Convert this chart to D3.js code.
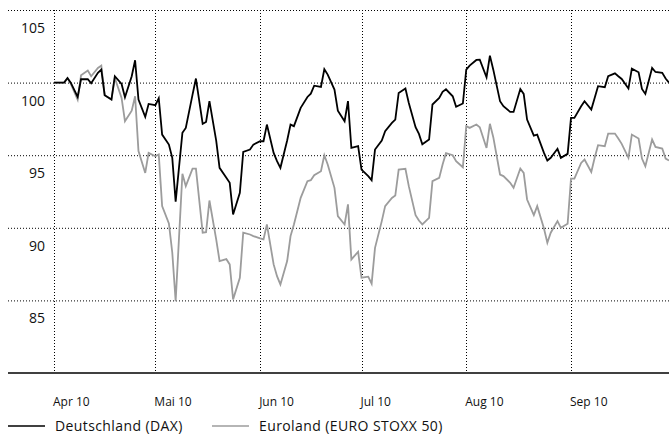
<!DOCTYPE html>
<html>
<head>
<meta charset="utf-8">
<script src="https://cdn.jsdelivr.net/npm/d3@7"></script>
<style>
  html, body { margin: 0; padding: 0; background: #fff; }
  svg { display: block; font-family: "Open Sans", sans-serif; }
</style>
</head>
<body>
<svg id="chart" width="669" height="438"></svg>
<script>
// ---- data ----
const dates = [
  "2010-04-01","2010-04-04","2010-04-05","2010-04-06","2010-04-08","2010-04-09","2010-04-11","2010-04-12","2010-04-14","2010-04-15",
  "2010-04-16","2010-04-18","2010-04-19","2010-04-21","2010-04-22","2010-04-24","2010-04-25","2010-04-26","2010-04-28","2010-04-29",
  "2010-05-01","2010-05-02","2010-05-03","2010-05-05","2010-05-06","2010-05-07","2010-05-09","2010-05-10","2010-05-12","2010-05-13",
  "2010-05-15","2010-05-16","2010-05-17","2010-05-19","2010-05-20","2010-05-22","2010-05-23","2010-05-24","2010-05-26","2010-05-27",
  "2010-05-29","2010-05-30",
  "2010-06-01","2010-06-02","2010-06-03","2010-06-05","2010-06-06","2010-06-07","2010-06-09","2010-06-10","2010-06-11","2010-06-13",
  "2010-06-15","2010-06-16","2010-06-17","2010-06-19","2010-06-20","2010-06-21","2010-06-23","2010-06-24","2010-06-26","2010-06-27",
  "2010-06-28","2010-06-30",
  "2010-07-01","2010-07-03","2010-07-04","2010-07-05","2010-07-07","2010-07-08","2010-07-10","2010-07-11","2010-07-12","2010-07-14",
  "2010-07-15","2010-07-17","2010-07-18","2010-07-19","2010-07-21","2010-07-22","2010-07-24","2010-07-25","2010-07-26","2010-07-28",
  "2010-07-29","2010-07-31",
  "2010-08-01","2010-08-02","2010-08-04","2010-08-05","2010-08-07","2010-08-08","2010-08-09","2010-08-11","2010-08-12","2010-08-14",
  "2010-08-15","2010-08-17","2010-08-18","2010-08-19","2010-08-21","2010-08-22","2010-08-24","2010-08-25","2010-08-26","2010-08-28",
  "2010-08-29","2010-08-31",
  "2010-09-01","2010-09-02","2010-09-04","2010-09-05","2010-09-07","2010-09-08","2010-09-09","2010-09-11","2010-09-12","2010-09-14",
  "2010-09-15","2010-09-16","2010-09-18","2010-09-19","2010-09-21","2010-09-22","2010-09-23","2010-09-25","2010-09-26","2010-09-28",
  "2010-09-29","2010-09-30"
];

const dax = [
  100, 100, 100.32, 99.98, 99.01, 100.23, 100.23, 99.95, 100.67, 100.89, 99.13, 98.83, 100.44, 99.91, 98.99, 100.44, 101.54, 98.83, 97.64, 98.53,
  98.44, 98.92, 96.42, 95.73, 94.82, 91.8, 96.54, 96.88, 99.17, 100.28, 97.16, 97.29, 98.72, 96.01, 94.13, 93.44, 93.10, 90.92, 92.41, 95.23, 95.39, 95.73,
  95.96, 95.96, 97.11, 95.16, 94.59, 94.13, 96.01, 97.11, 97.0, 98.26, 99.01, 99.24, 99.79, 99.70, 100.92, 100.55, 99.52, 98.07, 97.34, 98.72, 95.50, 95.62,
  94.01, 93.56, 93.28, 95.39, 96.01, 96.65, 97.22, 97.45, 99.29, 99.59, 98.60, 96.93, 96.47, 95.75, 96.08, 98.49, 98.94, 99.36, 99.54, 99.06, 98.33, 98.56,
  100.89, 101.17, 101.56, 101.58, 100.37, 101.86, 100.89, 98.72, 98.37, 97.98, 97.98, 99.56, 99.22, 97.45, 96.35, 96.42, 95.16, 94.63, 94.82, 95.44, 94.82, 95.09,
  97.57, 97.57, 98.37, 98.72, 98.14, 98.94, 99.75, 99.68, 100.44, 100.64, 100.44, 100.25, 99.59, 100.96, 100.71, 99.56, 99.22, 101.01, 100.73, 100.67, 100.28, 100.0
];

const stoxx = [
  100, 100, 100.3, 99.9, 98.83, 100.5, 100.83, 100.44, 101.01, 101.17, 99.13, 98.83, 100.32, 98.94, 97.34, 98.07, 99.06, 95.28, 93.78, 95.16,
  94.93, 95.05, 91.49, 90.3, 88.3, 84.95, 93.72, 92.87, 94.08, 94.08, 89.66, 89.70, 91.88, 89.20, 87.71, 87.84, 87.48, 85.07, 86.56, 89.66, 89.54, 89.43,
  89.27, 89.20, 90.23, 87.48, 86.67, 86.10, 87.71, 89.43, 90.23, 92.06, 93.21, 93.28, 93.62, 93.90, 95.0, 94.36, 92.75, 90.80, 90.23, 91.61, 87.82, 88.35,
  86.56, 86.63, 86.15, 88.62, 90.46, 91.49, 92.06, 92.22, 94.01, 94.06, 92.87, 90.87, 90.50, 90.23, 90.69, 93.21, 93.44, 94.36, 95.14, 95.0, 94.59, 94.17,
  97.0, 96.88, 97.11, 96.93, 95.50, 97.16, 96.24, 93.67, 93.56, 93.10, 92.75, 94.08, 93.78, 91.95, 90.87, 91.49, 89.95, 88.97, 89.66, 90.46, 90.0, 90.28,
  93.39, 93.39, 94.47, 94.70, 93.85, 94.82, 95.69, 95.62, 96.49, 96.49, 96.15, 95.78, 94.82, 96.42, 96.15, 94.77, 94.24, 96.08, 95.57, 95.46, 94.77, 94.63
];

const monthTicks = ["2010-04-01","2010-05-01","2010-06-01","2010-07-01","2010-08-01","2010-09-01"];
const monthLabels = ["Apr 10","Mai 10","Jun 10","Jul 10","Aug 10","Sep 10"];
const yTicks = [85, 90, 95, 100, 105];
const seriesNames = ["Deutschland (DAX)", "Euroland (EURO STOXX 50)"];
const seriesColors = ["#000000", "#9c9c9c"];

// ---- layout ----
const svg = d3.select("#chart");
const plotLeft = 8, plotRight = 669, plotTop = 10, plotBottom = 373;
const parse = d3.utcParse("%Y-%m-%d");

const x = d3.scaleUtc()
  .domain([parse("2010-04-01"), parse("2010-09-30")])
  .range([54, 669]);
const y = d3.scaleLinear().domain([80, 105]).range([plotBottom, plotTop]);

// horizontal dotted grid
svg.append("g").selectAll("line").data(yTicks).join("line")
  .attr("x1", plotLeft).attr("x2", plotRight)
  .attr("y1", d => y(d) + 0.5).attr("y2", d => y(d) + 0.5)
  .attr("stroke", "#000").attr("stroke-width", 1)
  .attr("stroke-dasharray", "1,2");

// vertical dotted grid
svg.append("g").selectAll("line").data(monthTicks).join("line")
  .attr("x1", d => Math.round(x(parse(d))) + 0.5).attr("x2", d => Math.round(x(parse(d))) + 0.5)
  .attr("y1", plotTop).attr("y2", plotBottom)
  .attr("stroke", "#000").attr("stroke-width", 1)
  .attr("stroke-dasharray", "1,2");

// y labels
svg.append("g").selectAll("text").data(yTicks).join("text")
  .attr("x", 45).attr("y", d => y(d) + 23)
  .attr("text-anchor", "end")
  .attr("font-size", 14).attr("fill", "#111")
  .text(d => d);

// x labels
svg.append("g").selectAll("text").data(monthTicks).join("text")
  .attr("x", d => x(parse(d)) - 1).attr("y", 406)
  .attr("text-anchor", "start")
  .attr("font-size", 12).attr("fill", "#111")
  .text((d, i) => monthLabels[i]);

// lines
const pts = (vals) => dates.map((d, i) => ({ date: parse(d), v: vals[i] }));
const line = d3.line().x(d => x(d.date)).y(d => y(d.v));

svg.append("path").datum(pts(stoxx))
  .attr("d", line).attr("fill", "none")
  .attr("stroke", seriesColors[1]).attr("stroke-width", 1.8)
  .attr("stroke-linejoin", "miter");
svg.append("path").datum(pts(dax))
  .attr("d", line).attr("fill", "none")
  .attr("stroke", seriesColors[0]).attr("stroke-width", 1.8)
  .attr("stroke-linejoin", "miter");

// x axis baseline
svg.append("line")
  .attr("x1", plotLeft).attr("x2", plotRight)
  .attr("y1", plotBottom).attr("y2", plotBottom)
  .attr("stroke", "#000").attr("stroke-width", 1.5);

// legend
const legendX = [8, 212];
const legendY = 426;
const lg = svg.append("g").selectAll("g").data(seriesNames).join("g")
  .attr("transform", (d, i) => `translate(${legendX[i]},${legendY})`);
lg.append("line").attr("x1", 0).attr("x2", 37).attr("y1", 0).attr("y2", 0)
  .attr("stroke", (d, i) => seriesColors[i]).attr("stroke-width", 1.7);
lg.append("text").attr("x", 47).attr("y", 5)
  .attr("font-size", 14).attr("letter-spacing", 0.4).attr("fill", "#111")
  .text(d => d);
</script>
</body>
</html>
